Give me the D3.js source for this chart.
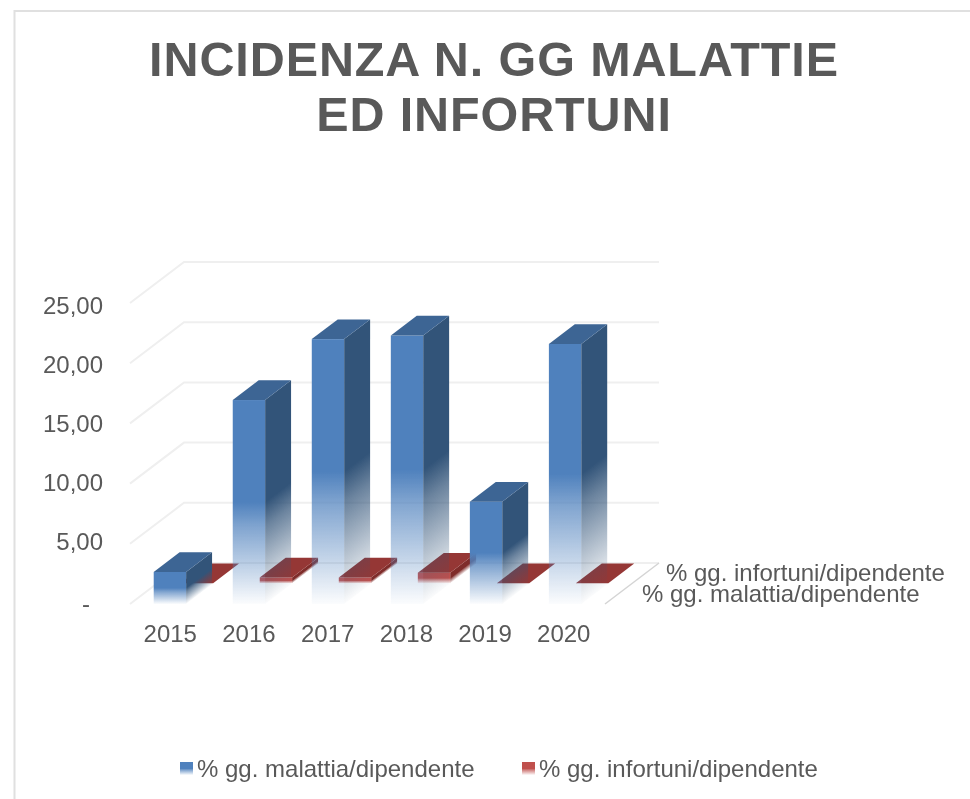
<!DOCTYPE html>
<html><head><meta charset="utf-8">
<script src="https://cdn.jsdelivr.net/npm/d3@7/dist/d3.min.js"></script>
<style>html,body{margin:0;padding:0;background:#fff;overflow:hidden}svg{display:block;font-family:"Liberation Sans",Arial,sans-serif;filter:blur(0.4px)}</style>
</head><body><svg id="c" width="970" height="799"></svg>
<script>
const categories=["2015","2016","2017","2018","2019","2020"];
const malattia=[2.66,16.94,22.0,22.3,8.5,21.6];
const infortuni=[0.03,0.5,0.5,0.9,0.03,0.03];
const tickValues=[0,5,10,15,20,25];
const tickLabels=["-","5,00","10,00","15,00","20,00","25,00"];
const seriesNames=["% gg. malattia/dipendente","% gg. infortuni/dipendente"];
const titleLines=["INCIDENZA N. GG MALATTIE","ED INFORTUNI"];
const grey="#595959";

const svg=d3.select("#c");
const defs=svg.append("defs");
svg.append("path").attr("d","M14.5,799V11H970").attr("fill","none").attr("stroke","#e0e0e0").attr("stroke-width",2);

svg.append("g").selectAll("text").data(titleLines).join("text")
 .attr("x",494).attr("y",(d,i)=>76+i*55).attr("text-anchor","middle")
 .attr("font-size",48.5).attr("letter-spacing",0.9).attr("font-weight","bold").attr("fill",grey).text(d=>d);

const plot=svg.append("g");
const x=d3.scaleBand().domain(categories).range([130,605]).paddingInner(0.59).paddingOuter(0.3);
const xLabel=d3.scaleBand().domain(categories).range([130.5,603.5]).paddingInner(0.59).paddingOuter(0.3);
const y=d3.scaleLinear().domain([0,25]).range([604,303]);
const yLabel=d3.scaleLinear().domain([5,25]).range([549.5,313.5]);
const depth=d3.scalePoint().domain([0,1,2]).range([0,1]);
const dxMax=54,dyMax=-41,barDepth=0.96;
const ox=z=>depth(z)*dxMax, oy=z=>depth(z)*dyMax;
const x0=x.range()[0],x1=x.range()[1];

tickValues.forEach(v=>{
  const p=d3.path();
  p.moveTo(x0,y(v));p.lineTo(x0+ox(2),y(v)+oy(2));p.lineTo(x1+ox(2),y(v)+oy(2));
  plot.append("path").attr("d",p).attr("fill","none").attr("stroke","#efefef").attr("stroke-width",2);
});
const fl=d3.path();fl.moveTo(x1,y(0));fl.lineTo(x1+ox(2),y(0)+oy(2));
plot.append("path").attr("d",fl).attr("fill","none").attr("stroke","#d4d4d4").attr("stroke-width",1.5);

function grad(id,color){
  const g=defs.append("linearGradient").attr("id",id).attr("x1",0).attr("y1",0).attr("x2",0).attr("y2",1);
  [[0,1],[0.5,1],[0.62,0.72],[0.85,0.3],[1,0.02]].forEach(([o,a])=>
    g.append("stop").attr("offset",o).attr("stop-color",color).attr("stop-opacity",a));
}
grad("bf","#4f81bd");grad("bs","#325479");grad("rf","#c0504d");grad("rs","#7f2c2a");

function bar(layer,v,cat,z,c){
  const w=x.bandwidth(),l=x(cat)+ox(z),b=y(0)+oy(z),t=y(v)+oy(z);
  const dx=(ox(1)-ox(0))*barDepth,dy=(oy(1)-oy(0))*barDepth,h=b-t;
  if(h>0.8){
    layer.append("rect").attr("x",l).attr("y",t).attr("width",w).attr("height",h).attr("fill",`url(#${c.fg})`);
    layer.append("rect").attr("x",0).attr("y",0).attr("width",dx).attr("height",h)
      .attr("transform",`matrix(1,${dy/dx},0,1,${l+w},${t})`).attr("fill",`url(#${c.sg})`);
  }
  const p=d3.path();
  p.moveTo(l,t);p.lineTo(l+dx,t+dy);p.lineTo(l+dx+w,t+dy);p.lineTo(l+w,t);p.closePath();
  layer.append("path").attr("d",p).attr("fill",c.top);
}
const redLayer=plot.append("g"),blueLayer=plot.append("g");
categories.forEach((c,i)=>bar(redLayer,infortuni[i],c,1,{fg:"rf",sg:"rs",top:"#953735"}));
categories.forEach((c,i)=>bar(blueLayer,malattia[i],c,0,{fg:"bf",sg:"bs",top:"#3d6594"}));

svg.append("g").selectAll("text").data(tickValues).join("text")
 .attr("x",(d,i)=>tickLabels[i]==="-"?90:103).attr("y",(d,i)=>tickLabels[i]==="-"?y(d)+8:yLabel(d)).attr("text-anchor","end")
 .attr("font-size",24).attr("fill",grey).text((d,i)=>tickLabels[i]);
svg.append("g").selectAll("text").data(categories).join("text")
 .attr("x",d=>xLabel(d)+xLabel.bandwidth()/2).attr("y",642).attr("text-anchor","middle")
 .attr("font-size",24).attr("fill",grey).text(d=>d);
svg.append("g").selectAll("text").data(seriesNames).join("text")
 .attr("x",(d,i)=>x1+37+i*24).attr("y",(d,i)=>602-i*21).attr("font-size",24).attr("fill",grey).text(d=>d);
const leg=svg.append("g");
const legX=[180,522],legColor=["bf","rf"];
seriesNames.forEach((n,i)=>{
  leg.append("rect").attr("x",legX[i]).attr("y",762).attr("width",13).attr("height",13).attr("fill",`url(#${legColor[i]})`);
  leg.append("text").attr("x",legX[i]+17).attr("y",777).attr("font-size",24).attr("fill",grey).text(n);
});
</script></body></html>
